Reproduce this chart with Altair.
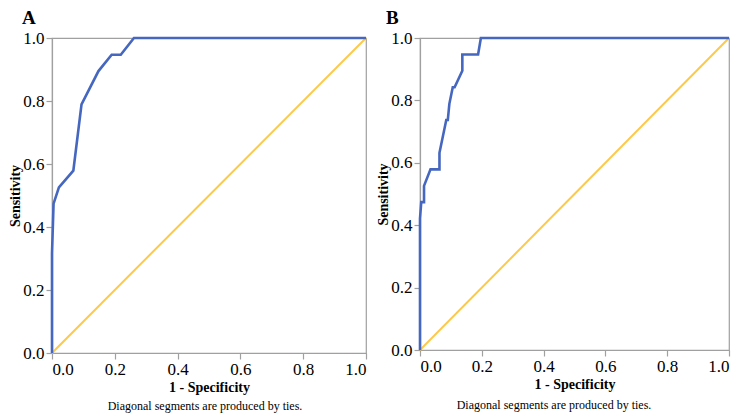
import altair as alt
import pandas as pd

# Panel A ROC curve (1 - specificity, sensitivity)
fpr_a = [0.0, 0.0, 0.005, 0.022, 0.068, 0.094, 0.148, 0.19, 0.219, 0.261, 1.0]
tpr_a = [0.0, 0.316, 0.474, 0.526, 0.579, 0.789, 0.895, 0.947, 0.947, 1.0, 1.0]

# Panel B ROC curve
fpr_b = [0.0, 0.0, 0.004, 0.013, 0.013, 0.034, 0.063, 0.063, 0.085, 0.090,
         0.095, 0.106, 0.112, 0.137, 0.137, 0.188, 0.197, 1.0]
tpr_b = [0.0, 0.421, 0.474, 0.474, 0.526, 0.579, 0.579, 0.632, 0.737, 0.737,
         0.789, 0.842, 0.842, 0.895, 0.947, 0.947, 1.0, 1.0]

# Reference diagonal
diag_x = [0.0, 1.0]
diag_y = [0.0, 1.0]

tick_values = [0.0, 0.2, 0.4, 0.6, 0.8, 1.0]
footnote = "Diagonal segments are produced by ties."

BLUE = "#4667bf"
YELLOW = "#fdc94a"
GRAY = "#a0a0a0"
SERIF = "Liberation Serif"


def panel(fpr, tpr, letter, w, h, letter_dx, letter_dy, note_x, note_dy):
    roc = pd.DataFrame({"fpr": fpr, "tpr": tpr, "i": list(range(len(fpr)))})
    ref = pd.DataFrame({"fpr": diag_x, "tpr": diag_y, "i": [0, 1]})

    x = alt.X("fpr:Q", scale=alt.Scale(domain=[0, 1], nice=False),
              axis=alt.Axis(title="1 - Specificity", values=tick_values, format=".1f"))
    y = alt.Y("tpr:Q", scale=alt.Scale(domain=[0, 1], nice=False),
              axis=alt.Axis(title="Sensitivity", values=tick_values, format=".1f"))

    diag = alt.Chart(ref).mark_line(color=YELLOW, strokeWidth=2).encode(
        x=x, y=y, order="i:Q")
    curve = alt.Chart(roc).mark_line(color=BLUE, strokeWidth=2.6).encode(
        x=x, y=y, order="i:Q")

    lab = alt.Chart(pd.DataFrame({"t": [letter]})).mark_text(
        align="left", baseline="top", font=SERIF, fontSize=19, fontWeight="bold",
        color="black").encode(
        x=alt.value(letter_dx), y=alt.value(letter_dy), text="t:N")

    note = alt.Chart(pd.DataFrame({"t": [footnote]})).mark_text(
        align="center", baseline="middle", font=SERIF, fontSize=12,
        color="black").encode(
        x=alt.value(note_x), y=alt.value(h + note_dy), text="t:N")

    return alt.layer(diag, curve, lab, note).properties(width=w, height=h)


pa = panel(fpr_a, tpr_a, "A", 314, 315, -30, -29, 153, 53)
pb = panel(fpr_b, tpr_b, "B", 309, 312, -34, -29, 134, 55)

chart = alt.hconcat(pa, pb, spacing=4).properties(
    padding={"left": 0, "top": 0, "right": 0, "bottom": 0}
).configure_view(
    stroke=GRAY, strokeWidth=1.2
).configure_axis(
    grid=False,
    domainColor=GRAY, tickColor=GRAY, domainWidth=1.2, tickWidth=1.2,
    tickSize=6,
    labelFont=SERIF, labelFontSize=17, labelColor="black", labelPadding=2,
    titleFont=SERIF, titleFontSize=14, titleFontWeight="bold", titleColor="black",
    titlePadding=0,
).configure_axisX(
    titlePadding=3,
)

chart.save("out.html", embed_options={"renderer": "svg", "actions": False})
